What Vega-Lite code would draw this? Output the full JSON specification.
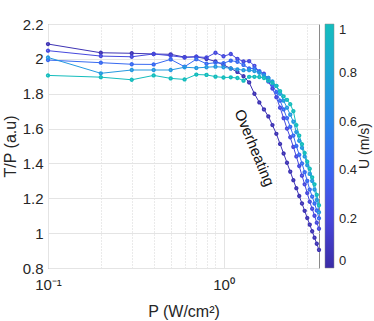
{
  "$schema": "https://vega.github.io/schema/vega-lite/v6.json",
  "autosize": {"type": "none"},
  "padding": {"left": 48, "top": 24, "right": 55, "bottom": 53},
  "width": 271,
  "height": 244,
  "config": {
    "font": "Liberation Sans",
    "view": {"stroke": "#8a8a8a", "strokeWidth": 1},
    "axis": {"labelColor": "#262626", "titleColor": "#262626", "titleFontWeight": "normal", "domain": false, "ticks": false, "labelFontSize": 15, "titleFontSize": 16, "gridColor": "#e4e4e4", "gridWidth": 1, "labelOverlap": false},
    "legend": {"gradientLength": 244, "gradientThickness": 9, "labelOverlap": false}
  },
  "datasets": {
    "curves": [
      {"P":0.1,"TP":2.085,"U":0.05},{"P":0.2,"TP":2.035,"U":0.05},{"P":0.3,"TP":2.032,"U":0.05},{"P":0.4,"TP":2.028,"U":0.05},{"P":0.5,"TP":2.026,"U":0.05},{"P":0.6,"TP":2.01,"U":0.05},{"P":0.7,"TP":2.012,"U":0.05},{"P":0.8,"TP":2.0,"U":0.05},{"P":0.9,"TP":1.985,"U":0.05},{"P":1.0,"TP":1.965,"U":0.05},{"P":1.1,"TP":1.945,"U":0.05},{"P":1.2,"TP":1.925,"U":0.05},{"P":1.3,"TP":1.9,"U":0.05},{"P":1.4,"TP":1.865,"U":0.05},{"P":1.5,"TP":1.8,"U":0.05},{"P":1.6,"TP":1.75,"U":0.05},{"P":1.7,"TP":1.71,"U":0.05},{"P":1.8,"TP":1.67,"U":0.05},{"P":1.9,"TP":1.62,"U":0.05},{"P":2.0,"TP":1.57,"U":0.05},{"P":2.1,"TP":1.512,"U":0.05},{"P":2.2,"TP":1.457,"U":0.05},{"P":2.3,"TP":1.404,"U":0.05},{"P":2.4,"TP":1.353,"U":0.05},{"P":2.5,"TP":1.304,"U":0.05},{"P":2.6,"TP":1.258,"U":0.05},{"P":2.7,"TP":1.213,"U":0.05},{"P":2.8,"TP":1.17,"U":0.05},{"P":2.9,"TP":1.128,"U":0.05},{"P":3.0,"TP":1.087,"U":0.05},{"P":3.1,"TP":1.049,"U":0.05},{"P":3.2,"TP":1.011,"U":0.05},{"P":3.3,"TP":0.974,"U":0.05},{"P":3.4,"TP":0.939,"U":0.05},{"P":3.5,"TP":0.904,"U":0.05},
      {"P":0.1,"TP":2.047,"U":0.22},{"P":0.2,"TP":2.016,"U":0.22},{"P":0.3,"TP":2.012,"U":0.22},{"P":0.4,"TP":2.028,"U":0.22},{"P":0.5,"TP":2.018,"U":0.22},{"P":0.6,"TP":2.008,"U":0.22},{"P":0.7,"TP":2.012,"U":0.22},{"P":0.8,"TP":2.008,"U":0.22},{"P":0.9,"TP":2.035,"U":0.22},{"P":1.0,"TP":2.015,"U":0.22},{"P":1.1,"TP":2.028,"U":0.22},{"P":1.2,"TP":2.0,"U":0.22},{"P":1.3,"TP":1.985,"U":0.22},{"P":1.4,"TP":1.987,"U":0.22},{"P":1.5,"TP":1.96,"U":0.22},{"P":1.6,"TP":1.925,"U":0.22},{"P":1.7,"TP":1.915,"U":0.22},{"P":1.8,"TP":1.87,"U":0.22},{"P":1.9,"TP":1.83,"U":0.22},{"P":2.0,"TP":1.78,"U":0.22},{"P":2.1,"TP":1.72,"U":0.22},{"P":2.2,"TP":1.66,"U":0.22},{"P":2.3,"TP":1.6,"U":0.22},{"P":2.4,"TP":1.55,"U":0.22},{"P":2.5,"TP":1.495,"U":0.22},{"P":2.6,"TP":1.44,"U":0.22},{"P":2.7,"TP":1.385,"U":0.22},{"P":2.8,"TP":1.33,"U":0.22},{"P":2.9,"TP":1.28,"U":0.22},{"P":3.0,"TP":1.23,"U":0.22},{"P":3.1,"TP":1.18,"U":0.22},{"P":3.2,"TP":1.14,"U":0.22},{"P":3.3,"TP":1.1,"U":0.22},{"P":3.4,"TP":1.06,"U":0.22},{"P":3.5,"TP":1.025,"U":0.22},
      {"P":0.1,"TP":1.993,"U":0.42},{"P":0.2,"TP":1.978,"U":0.42},{"P":0.3,"TP":1.969,"U":0.42},{"P":0.4,"TP":1.968,"U":0.42},{"P":0.5,"TP":1.997,"U":0.42},{"P":0.6,"TP":1.955,"U":0.42},{"P":0.7,"TP":1.998,"U":0.42},{"P":0.8,"TP":1.972,"U":0.42},{"P":0.9,"TP":1.978,"U":0.42},{"P":1.0,"TP":1.975,"U":0.42},{"P":1.1,"TP":1.99,"U":0.42},{"P":1.2,"TP":1.983,"U":0.42},{"P":1.3,"TP":1.965,"U":0.42},{"P":1.4,"TP":1.945,"U":0.42},{"P":1.5,"TP":1.945,"U":0.42},{"P":1.6,"TP":1.93,"U":0.42},{"P":1.7,"TP":1.91,"U":0.42},{"P":1.8,"TP":1.89,"U":0.42},{"P":1.9,"TP":1.85,"U":0.42},{"P":2.0,"TP":1.81,"U":0.42},{"P":2.1,"TP":1.76,"U":0.42},{"P":2.2,"TP":1.71,"U":0.42},{"P":2.3,"TP":1.66,"U":0.42},{"P":2.4,"TP":1.61,"U":0.42},{"P":2.5,"TP":1.56,"U":0.42},{"P":2.6,"TP":1.5,"U":0.42},{"P":2.7,"TP":1.45,"U":0.42},{"P":2.8,"TP":1.4,"U":0.42},{"P":2.9,"TP":1.35,"U":0.42},{"P":3.0,"TP":1.3,"U":0.42},{"P":3.1,"TP":1.25,"U":0.42},{"P":3.2,"TP":1.21,"U":0.42},{"P":3.3,"TP":1.17,"U":0.42},{"P":3.4,"TP":1.13,"U":0.42},{"P":3.5,"TP":1.085,"U":0.42},
      {"P":0.1,"TP":2.008,"U":0.7},{"P":0.2,"TP":1.917,"U":0.7},{"P":0.3,"TP":1.936,"U":0.7},{"P":0.4,"TP":1.936,"U":0.7},{"P":0.5,"TP":1.936,"U":0.7},{"P":0.6,"TP":1.952,"U":0.7},{"P":0.7,"TP":1.948,"U":0.7},{"P":0.8,"TP":1.952,"U":0.7},{"P":0.9,"TP":1.955,"U":0.7},{"P":1.0,"TP":1.952,"U":0.7},{"P":1.1,"TP":1.945,"U":0.7},{"P":1.2,"TP":1.94,"U":0.7},{"P":1.3,"TP":1.935,"U":0.7},{"P":1.4,"TP":1.935,"U":0.7},{"P":1.5,"TP":1.93,"U":0.7},{"P":1.6,"TP":1.92,"U":0.7},{"P":1.7,"TP":1.905,"U":0.7},{"P":1.8,"TP":1.89,"U":0.7},{"P":1.9,"TP":1.87,"U":0.7},{"P":2.0,"TP":1.845,"U":0.7},{"P":2.1,"TP":1.8,"U":0.7},{"P":2.2,"TP":1.76,"U":0.7},{"P":2.3,"TP":1.72,"U":0.7},{"P":2.4,"TP":1.68,"U":0.7},{"P":2.5,"TP":1.64,"U":0.7},{"P":2.6,"TP":1.58,"U":0.7},{"P":2.7,"TP":1.53,"U":0.7},{"P":2.8,"TP":1.49,"U":0.7},{"P":2.9,"TP":1.44,"U":0.7},{"P":3.0,"TP":1.39,"U":0.7},{"P":3.1,"TP":1.34,"U":0.7},{"P":3.2,"TP":1.3,"U":0.7},{"P":3.3,"TP":1.25,"U":0.7},{"P":3.4,"TP":1.19,"U":0.7},{"P":3.5,"TP":1.12,"U":0.7},
      {"P":0.1,"TP":1.905,"U":1.0},{"P":0.2,"TP":1.895,"U":1.0},{"P":0.3,"TP":1.88,"U":1.0},{"P":0.4,"TP":1.905,"U":1.0},{"P":0.5,"TP":1.888,"U":1.0},{"P":0.6,"TP":1.882,"U":1.0},{"P":0.7,"TP":1.91,"U":1.0},{"P":0.8,"TP":1.908,"U":1.0},{"P":0.9,"TP":1.898,"U":1.0},{"P":1.0,"TP":1.893,"U":1.0},{"P":1.1,"TP":1.894,"U":1.0},{"P":1.2,"TP":1.89,"U":1.0},{"P":1.3,"TP":1.875,"U":1.0},{"P":1.4,"TP":1.897,"U":1.0},{"P":1.5,"TP":1.897,"U":1.0},{"P":1.6,"TP":1.896,"U":1.0},{"P":1.7,"TP":1.89,"U":1.0},{"P":1.8,"TP":1.875,"U":1.0},{"P":1.9,"TP":1.862,"U":1.0},{"P":2.0,"TP":1.845,"U":1.0},{"P":2.1,"TP":1.815,"U":1.0},{"P":2.2,"TP":1.785,"U":1.0},{"P":2.3,"TP":1.765,"U":1.0},{"P":2.4,"TP":1.74,"U":1.0},{"P":2.5,"TP":1.7,"U":1.0},{"P":2.6,"TP":1.62,"U":1.0},{"P":2.7,"TP":1.56,"U":1.0},{"P":2.8,"TP":1.51,"U":1.0},{"P":2.9,"TP":1.46,"U":1.0},{"P":3.0,"TP":1.41,"U":1.0},{"P":3.1,"TP":1.37,"U":1.0},{"P":3.2,"TP":1.32,"U":1.0},{"P":3.3,"TP":1.28,"U":1.0},{"P":3.4,"TP":1.22,"U":1.0},{"P":3.5,"TP":1.16,"U":1.0}
    ],
    "notes": [{"P": 1.5, "TP": 1.49, "label": "Overheating"}]
  },
  "encoding": {
    "x": {
      "field": "P", "type": "quantitative",
      "scale": {"type": "log", "domain": [0.1, 3.5], "nice": false},
      "axis": {
        "title": "P (W/cm²)",
        "values": [0.1, 0.2, 0.3, 0.4, 0.5, 0.6, 0.7, 0.8, 0.9, 1, 2, 3],
        "labelExpr": "datum.value == 0.1 ? '10⁻¹' : datum.value == 1 ? '10⁰' : ''",
        "labelFlush": false, "labelOverlap": false, "labelPadding": 9, "titlePadding": 11,
        "gridDash": {"condition": {"test": "datum.value == 0.1 || datum.value == 1", "value": []}, "value": [1, 2]},
        "gridColor": {"condition": {"test": "datum.value == 0.1 || datum.value == 1", "value": "#e4e4e4"}, "value": "#d4d4d4"}
      }
    },
    "y": {
      "field": "TP", "type": "quantitative",
      "scale": {"domain": [0.8, 2.2], "nice": false, "zero": false},
      "axis": {
        "title": "T/P (a.u)",
        "values": [0.8, 1, 1.2, 1.4, 1.6, 1.8, 2, 2.2],
        "format": "~g", "labelFlush": false, "labelOverlap": false, "labelPadding": 5, "titlePadding": 4
      }
    }
  },
  "layer": [
    {
      "data": {"name": "curves"},
      "mark": {"type": "line", "strokeWidth": 1},
      "encoding": {
        "color": {
          "field": "U", "type": "quantitative",
          "scale": {"domain": [0, 1], "range": ["#3b2ca6", "#4746dc", "#3a66f2", "#2a8aea", "#1ea7d6", "#14bdbd"], "interpolate": "rgb"},
          "legend": {
            "type": "gradient",
            "title": "U (m/s)", "orient": "right", "direction": "vertical", "offset": 4, "padding": 0,
            "values": [0, 0.2, 0.4, 0.6, 0.8, 1], "format": "~g",
            "gradientLength": 244, "gradientThickness": 9,
            "gradientStrokeColor": "#8a8a8a", "gradientStrokeWidth": 0.5,
            "labelFontSize": 13, "labelOffset": 5, "labelColor": "#262626", "labelOverlap": false,
            "titleOrient": "right", "titleAnchor": "middle",
            "titleFontSize": 14, "titleFontWeight": "normal", "titleColor": "#262626", "titlePadding": 1,
            "encode": {"title": {"update": {"angle": {"value": -90}, "baseline": {"value": "top"}}}}
          }
        },
        "detail": {"field": "U", "type": "quantitative"}
      }
    },
    {
      "data": {"name": "curves"},
      "mark": {"type": "point", "filled": false, "size": 3, "strokeWidth": 2.6, "opacity": 1},
      "encoding": {
        "color": {"field": "U", "type": "quantitative"}
      }
    },
    {
      "data": {"name": "notes"},
      "mark": {"type": "text", "angle": 67.5, "fontSize": 15, "color": "#111111", "align": "center", "baseline": "middle"},
      "encoding": {
        "text": {"field": "label"}
      }
    }
  ]
}
